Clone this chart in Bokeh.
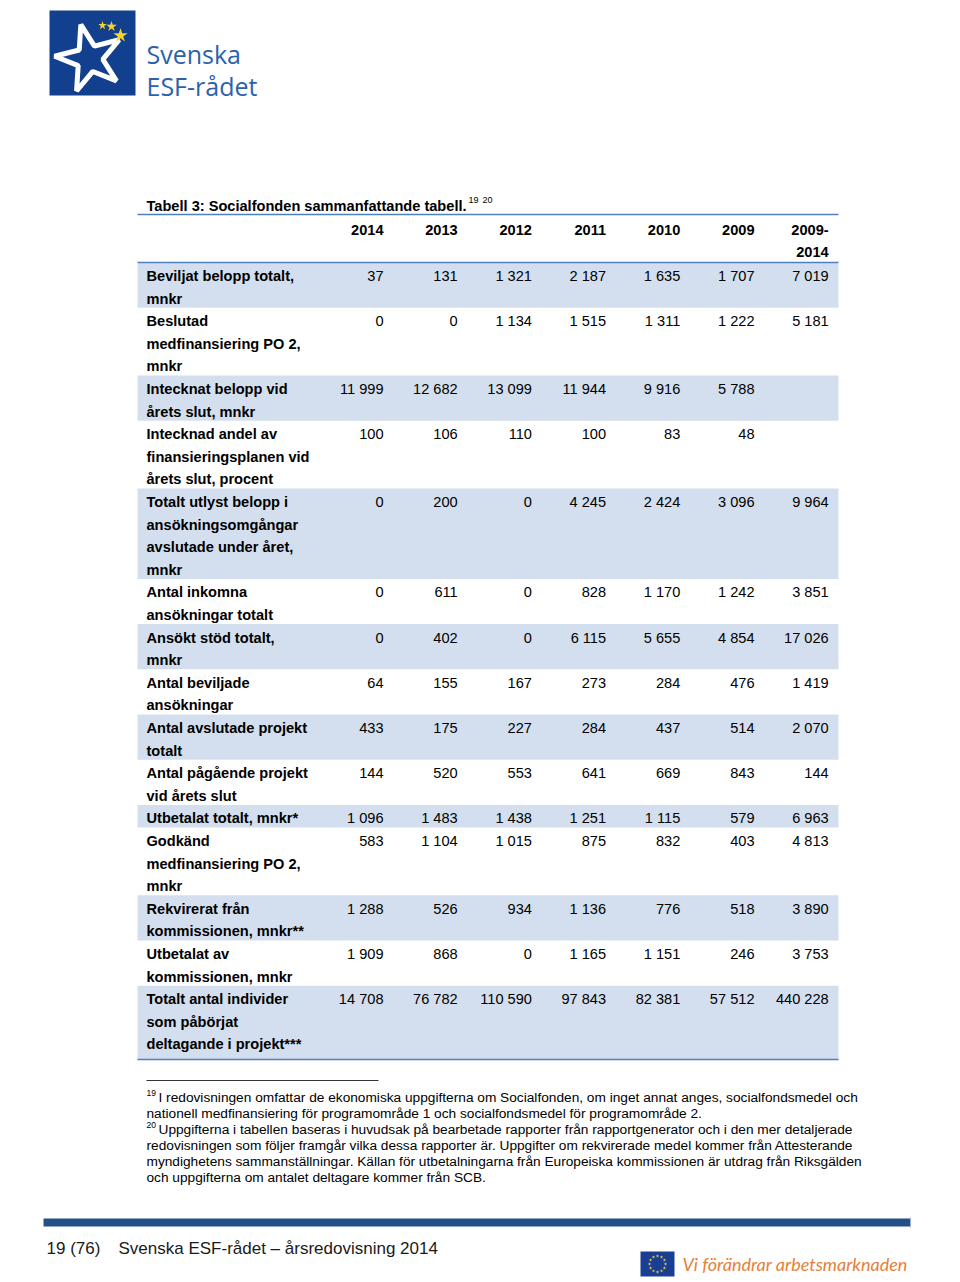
import math
from bokeh.plotting import figure
from bokeh.models import Range1d
from bokeh.embed import file_html
from bokeh.resources import INLINE
from bokeh.core.properties import value

# ---------------- data ----------------
title = "Tabell 3: Socialfonden sammanfattande tabell."
title_refs = ["19", "20"]
column_headers = ["2014", "2013", "2012", "2011", "2010", "2009", "2009-|2014"]

row_labels = [
    "Beviljat belopp totalt,|mnkr",
    "Beslutad|medfinansiering PO 2,|mnkr",
    "Intecknat belopp vid|årets slut, mnkr",
    "Intecknad andel av|finansieringsplanen vid|årets slut, procent",
    "Totalt utlyst belopp i|ansökningsomgångar|avslutade under året,|mnkr",
    "Antal inkomna|ansökningar totalt",
    "Ansökt stöd totalt,|mnkr",
    "Antal beviljade|ansökningar",
    "Antal avslutade projekt|totalt",
    "Antal pågående projekt|vid årets slut",
    "Utbetalat totalt, mnkr*",
    "Godkänd|medfinansiering PO 2,|mnkr",
    "Rekvirerat från|kommissionen, mnkr**",
    "Utbetalat av|kommissionen, mnkr",
    "Totalt antal individer|som påbörjat|deltagande i projekt***",
]

v2014 = [37, 0, 11999, 100, 0, 0, 0, 64, 433, 144, 1096, 583, 1288, 1909, 14708]
v2013 = [131, 0, 12682, 106, 200, 611, 402, 155, 175, 520, 1483, 1104, 526, 868, 76782]
v2012 = [1321, 1134, 13099, 110, 0, 0, 0, 167, 227, 553, 1438, 1015, 934, 0, 110590]
v2011 = [2187, 1515, 11944, 100, 4245, 828, 6115, 273, 284, 641, 1251, 875, 1136, 1165, 97843]
v2010 = [1635, 1311, 9916, 83, 2424, 1170, 5655, 284, 437, 669, 1115, 832, 776, 1151, 82381]
v2009 = [1707, 1222, 5788, 48, 3096, 1242, 4854, 476, 514, 843, 579, 403, 518, 246, 57512]
v_total = [7019, 5181, None, None, 9964, 3851, 17026, 1419, 2070, 144, 6963, 4813, 3890, 3753, 440228]
columns = [v2014, v2013, v2012, v2011, v2010, v2009, v_total]

footnote_19 = [
    "I redovisningen omfattar de ekonomiska uppgifterna om Socialfonden, om inget annat anges, socialfondsmedel och",
    "nationell medfinansiering för programområde 1 och socialfondsmedel för programområde 2.",
]
footnote_20 = [
    "Uppgifterna i tabellen baseras i huvudsak på bearbetade rapporter från rapportgenerator och i den mer detaljerade",
    "redovisningen som följer framgår vilka dessa rapporter är. Uppgifter om rekvirerade medel kommer från Attesterande",
    "myndighetens sammanställningar. Källan för utbetalningarna från Europeiska kommissionen är utdrag från Riksgälden",
    "och uppgifterna om antalet deltagare kommer från SCB.",
]
page_no = "19 (76)"
footer_text = "Svenska ESF-rådet – årsredovisning 2014"
slogan = "Vi förändrar arbetsmarknaden"
logo_lines = ["Svenska", "ESF-rådet"]

# ---------------- styling ----------------
FONT = value("Liberation Sans")
BLUE_LINE = "#4F81BD"
SHADE = "#D3DFEE"
TEXT = "#000000"
FS = "14.6px"

def fmt(v):
    return f"{v:,}".replace(",", " ")

W, H = 944, 1280
p = figure(width=W, height=H, x_range=Range1d(0, W), y_range=Range1d(H, 0),
           output_backend="svg", toolbar_location=None, min_border=0,
           x_axis_type=None, y_axis_type=None)
p.grid.visible = False
p.outline_line_color = None
p.background_fill_color = "white"
p.border_fill_color = "white"

# ---------------- logo ----------------
p.quad(left=[49], right=[135], top=[10], bottom=[95], fill_color="#12408E", line_color=None)
p.scatter(x=[89], y=[58], marker="star", size=70, fill_alpha=0, line_color="white",
          line_width=5, angle=0.25)
p.scatter(x=[102, 111, 120], y=[25, 26, 35], marker="star", size=[9, 11, 15],
          fill_color="#F5D327", line_color=None)
p.text(x=[146, 146], y=[53, 85], text=logo_lines, text_font=value("Open Sans"),
       text_font_size="25px", text_color="#2B62AC", text_baseline="middle", text_align="left")

# ---------------- title ----------------
LEFT, RIGHT = 137, 838
p.text(x=[146], y=[205], text=[title], text_font=FONT, text_font_style="bold",
       text_font_size=FS, text_color=TEXT, text_baseline="middle")
p.text(x=[468, 482], y=[199, 199], text=title_refs, text_font=FONT, text_font_size="9px",
       text_color=TEXT, text_baseline="middle")

# ---------------- table ----------------
LINE = 22.6
col_right = [383 + j * 74.2 for j in range(len(column_headers))]
HEAD_TOP = 214
BODY_TOP = 262

hx, hy, ht = [], [], []
for j, h in enumerate(column_headers):
    for k, part in enumerate(h.split("|")):
        hx.append(col_right[j]); hy.append(HEAD_TOP + 15 + k * LINE); ht.append(part)
p.text(x=hx, y=hy, text=ht, text_font=FONT, text_font_style="bold", text_font_size=FS,
       text_color=TEXT, text_baseline="middle", text_align="right")

y0 = BODY_TOP
bands_top, bands_bot = [], []
lx, ly, lt = [], [], []
nx, ny, nt = [], [], []
for i, lab in enumerate(row_labels):
    parts = lab.split("|")
    h = len(parts) * LINE + (6 if i == len(row_labels) - 1 else 0)
    if i % 2 == 0:
        bands_top.append(y0); bands_bot.append(y0 + h)
    for k, part in enumerate(parts):
        lx.append(146); ly.append(y0 + 13.5 + k * LINE); lt.append(part)
    for j, col in enumerate(columns):
        if col[i] is not None:
            nx.append(col_right[j]); ny.append(y0 + 13.5); nt.append(fmt(col[i]))
    y0 += h
TABLE_BOTTOM = y0

p.quad(left=LEFT, right=RIGHT, top=bands_top, bottom=bands_bot, fill_color=SHADE, line_color=None)
p.segment(x0=[LEFT] * 3, x1=[RIGHT] * 3, y0=[HEAD_TOP, BODY_TOP, TABLE_BOTTOM],
          y1=[HEAD_TOP, BODY_TOP, TABLE_BOTTOM], line_color=BLUE_LINE, line_width=1.6)
p.text(x=lx, y=ly, text=lt, text_font=FONT, text_font_style="bold", text_font_size=FS,
       text_color=TEXT, text_baseline="middle", text_align="left")
p.text(x=nx, y=ny, text=nt, text_font=FONT, text_font_size=FS,
       text_color=TEXT, text_baseline="middle", text_align="right")

# ---------------- footnotes ----------------
p.segment(x0=[146], x1=[378], y0=[1080], y1=[1080], line_color="#333333", line_width=1)
FN_LINE = 15.9
fx, fy, ft = [], [], []
y = 1097
for k, t in enumerate(footnote_19):
    fx.append(158 if k == 0 else 146); fy.append(y); ft.append(t); y += FN_LINE
for k, t in enumerate(footnote_20):
    fx.append(158 if k == 0 else 146); fy.append(y); ft.append(t); y += FN_LINE
p.text(x=fx, y=fy, text=ft, text_font=FONT, text_font_size="13.7px", text_color=TEXT,
       text_baseline="middle")
p.text(x=[146, 146], y=[1092, 1124], text=["19", "20"], text_font=FONT, text_font_size="8.5px",
       text_color=TEXT, text_baseline="middle")

# ---------------- footer ----------------
p.quad(left=[43], right=[910], top=[1218], bottom=[1226], fill_color="#24508A", line_color=None)
p.segment(x0=[910], x1=[910], y0=[1217], y1=[1227], line_color="#9FB4CF", line_width=1)
p.text(x=[46, 118], y=[1248, 1248], text=[page_no, footer_text], text_font=FONT,
       text_font_size="17px", text_color="#1a1a1a", text_baseline="middle")

# EU flag
p.quad(left=[640], right=[674], top=[1251], bottom=[1276], fill_color="#1B3E95", line_color=None)
sx = [657 + 8 * math.cos(2 * math.pi * k / 12) for k in range(12)]
sy = [1263.5 + 8 * math.sin(2 * math.pi * k / 12) for k in range(12)]
p.scatter(x=sx, y=sy, marker="star", size=3.5, fill_color="#F3D22B", line_color=None)
p.text(x=[682], y=[1263], text=[slogan], text_font=value("Lato"), text_font_style="italic",
       text_font_size="18px", text_color="#E5813A", text_baseline="middle")

open("out.html", "w").write(file_html(p, INLINE))
